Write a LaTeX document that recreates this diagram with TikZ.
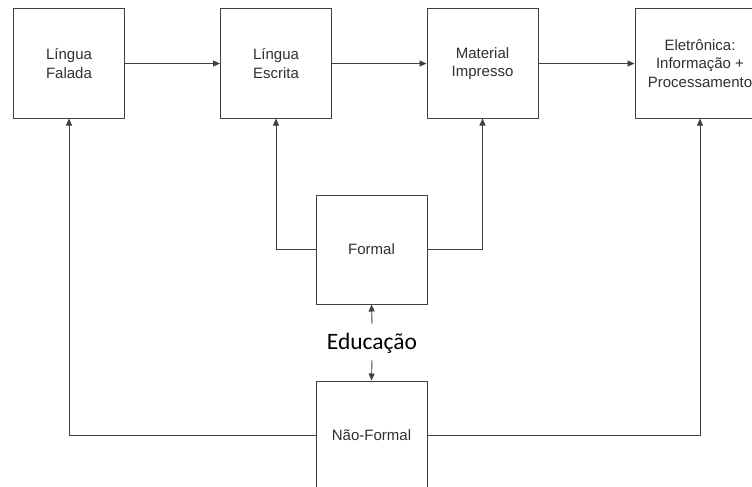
\documentclass[tikz,border=0pt]{standalone}
\usepackage{fontspec}
\setmainfont{Liberation Sans}
\newfontfamily\edufont{Carlito}
\usetikzlibrary{arrows.meta}
\definecolor{ln}{HTML}{404040}
\definecolor{tx}{HTML}{303030}
\tikzset{
  blk/.style={draw=ln, line width=1pt, rectangle, minimum width=111pt, minimum height=109pt, inner sep=0pt, align=center, text=tx, font=\fontsize{15}{18.5}\selectfont},
  arr/.style={draw=ln, line width=0.9pt, -{Triangle[length=7pt,width=6pt]}},
}
\begin{document}
\begin{tikzpicture}[x=1pt,y=-1pt]
\clip (0,0) rectangle (752,487);
\fill[white] (0,0) rectangle (752,487);
\node[blk] (b1) at (69,63.5) {Língua\\Falada};
\node[blk] (b2) at (276,63.5) {Língua\\Escrita};
\node[blk] (b3) at (482.5,63.5) {Material\\Impresso};
\node[blk, minimum width=130pt] (b4) at (700,63.5) {Eletrônica:\\Informação +\\Processamento};
\node[blk] (formal) at (371.5,249.5) {Formal};
\node[blk] (nf) at (371.5,435.5) {Não-Formal};
\node[anchor=base, text=black, font=\edufont\fontsize{23.5}{26}\selectfont, text height=14pt, text depth=0pt, inner ysep=11pt, inner xsep=2pt] (edu) at (372,349) {Educação};
\draw[arr] (b1.east) -- (b2.west);
\draw[arr] (b2.east) -- (b3.west);
\draw[arr] (b3.east) -- (b4.west);
\draw[arr] (formal.west) -| (b2.south);
\draw[arr] (formal.east) -| (b3.south);
\draw[arr] (nf.west) -| (b1.south);
\draw[arr] (nf.east) -| (b4.south);
\draw[arr] (edu.north) -- (formal.south);
\draw[arr] (edu.south) -- (nf.north);
\end{tikzpicture}
\end{document}
